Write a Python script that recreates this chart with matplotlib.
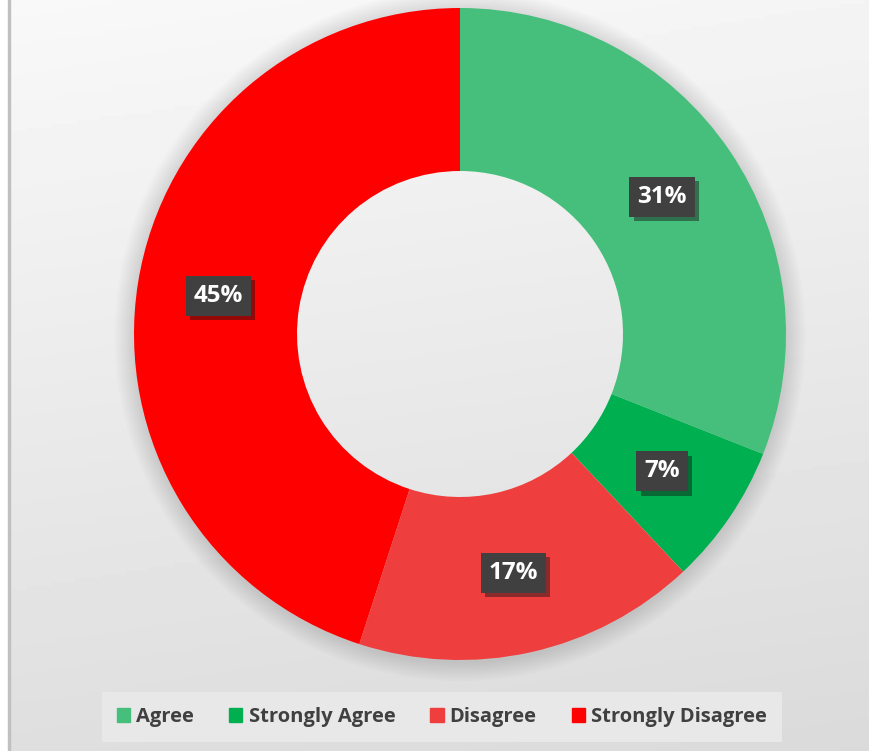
import numpy as np
import matplotlib
matplotlib.use("Agg")
import matplotlib.pyplot as plt
import matplotlib.patches as mpatches
import matplotlib.patheffects as pe

labels = ["Agree", "Strongly Agree", "Disagree", "Strongly Disagree"]
shares = [31, 7, 17, 45]
colors = ["#45BF7B", "#00B050", "#EF3E3E", "#FF0000"]

W, H, dpi = 869, 751, 100
plt.rcParams['font.family'] = ['Open Sans', 'DejaVu Sans']

fig = plt.figure(figsize=(W / dpi, H / dpi), dpi=dpi)

# background gradient
bg = fig.add_axes([0, 0, 1, 1])
yy, xx = np.mgrid[0:1:200j, 0:1:200j]
grad = 0.975 - 0.12 * (0.85 * yy + 0.15 * xx)
bg.imshow(grad, cmap="gray", vmin=0, vmax=1, extent=[0, W, H, 0], aspect="auto")
bg.add_patch(mpatches.Rectangle((0, 0), 8, H, color="white", zorder=2))
bg.add_patch(mpatches.Rectangle((8, 0), 2, H, color="#c0c0c0", zorder=2))
bg.set_xlim(0, W)
bg.set_ylim(H, 0)
bg.axis('off')

cx, cy, R = 460, 334, 326
ax = fig.add_axes([(cx - R) / W, (H - cy - R) / H, 2 * R / W, 2 * R / H])

# soft outer shadow (rings only, hole stays clear)
for i in range(10):
    ax.add_patch(mpatches.Wedge((0, -0.005), 1.0 + 0.006 * (i + 1), 0, 360,
                                width=0.006 * (i + 1) + 0.01, clip_on=False,
                                color="black", alpha=0.012, lw=0))

wedges, _ = ax.pie(shares, colors=colors, startangle=90, counterclock=False,
                   radius=1.0, wedgeprops=dict(width=0.5, edgecolor="none"))

total = sum(shares)
start = 90.0
for s in shares:
    mid = np.deg2rad(start - s / total * 360 / 2)
    start -= s / total * 360
    t = ax.text(0.75 * np.cos(mid), 0.75 * np.sin(mid), f"{s}%",
                ha="center", va="center", color="white", fontsize=17.5,
                fontweight="bold",
                bbox=dict(boxstyle="square,pad=0.33", fc="#404040", ec="none"))
    t.get_bbox_patch().set_path_effects(
        [pe.SimplePatchShadow(offset=(3, -3), alpha=0.45), pe.Normal()])

ax.set_xlim(-1, 1)
ax.set_ylim(-1, 1)
ax.set_aspect("equal")
ax.axis('off')

handles = [mpatches.Patch(color=c, label=l) for c, l in zip(colors, labels)]
leg = fig.legend(handles=handles, loc="center", ncol=4,
                 bbox_to_anchor=(442 / W, 1 - 717 / H), frameon=True,
                 prop=dict(size=14.5, weight="bold"),
                 handlelength=0.65, handleheight=0.65,
                 handletextpad=0.3, columnspacing=1.75, borderpad=0.75,
                 fancybox=False)
leg.get_frame().set_facecolor("#e8e8e8")
leg.get_frame().set_edgecolor("none")
leg.get_frame().set_alpha(1)
for txt in leg.get_texts():
    txt.set_color("#404040")

fig.savefig("out.png", dpi=dpi)
